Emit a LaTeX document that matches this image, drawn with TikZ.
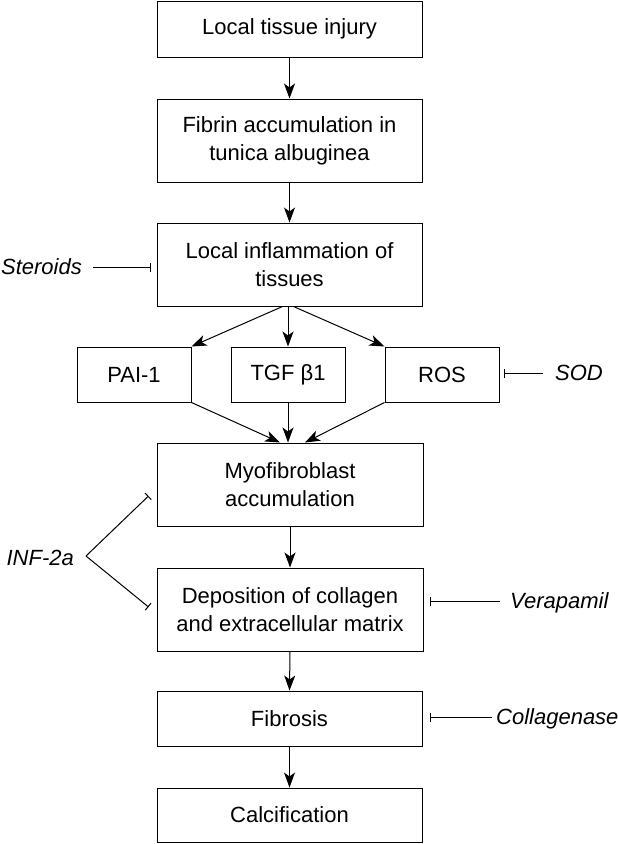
\documentclass[tikz,border=0pt]{standalone}
\usepackage{fontspec}
\setmainfont{Liberation Sans}
\usetikzlibrary{arrows.meta,calc}
\newcommand{\fsz}{\fontsize{22}{28}\selectfont}
\begin{document}
\begin{tikzpicture}[x=1pt,y=-1pt,
  box/.style={draw, line width=1pt, align=center, inner sep=0pt, font=\fsz},
  arr/.style={-{Stealth[length=15pt,width=11pt,inset=4pt]}, line width=1pt},
  inh/.style={-{Bar[width=9pt]}, line width=1pt},
  lab/.style={font=\fsz\itshape, inner sep=0pt, text height=15.8pt, text depth=0pt}]
\useasboundingbox (0,0) rectangle (618,844);
\node[box, minimum width=265pt, minimum height=56pt] (b1) at (289.5,29) {Local tissue injury};
\node[box, minimum width=265pt, minimum height=83pt] (b2) at (289.5,140.5) {Fibrin accumulation in\\tunica albuginea};
\node[box, minimum width=265pt, minimum height=83pt] (b3) at (289.5,264.5) {Local inflammation of\\tissues};
\node[box, minimum width=114pt, minimum height=55pt] (pai) at (134,374.5) {PAI-1};
\node[box, minimum width=114pt, minimum height=55pt] (tgf) at (288,374.5) {TGF β1};
\node[box, minimum width=114pt, minimum height=55pt] (ros) at (442,374.5) {ROS};
\node[box, minimum width=266pt, minimum height=83pt] (myo) at (290,484.5) {Myofibroblast\\accumulation};
\node[box, minimum width=266pt, minimum height=83pt] (dep) at (290,609.5) {Deposition of collagen\\and extracellular matrix};
\node[box, minimum width=265pt, minimum height=55pt] (fib) at (289.5,718.5) {Fibrosis};
\node[box, minimum width=265pt, minimum height=54pt] (calc) at (289.5,815) {Calcification};

\draw[arr] (b1.south) -- (b2.north);
\draw[arr] (b2.south) -- (b3.north);
\draw[arr] ([xshift=-7pt]b3.south) -- (pai.north east);
\draw[arr] (b3.south -| tgf.north) -- (tgf.north);
\draw[arr] ([xshift=4pt]b3.south) -- (ros.north west);
\draw[arr] (pai.south east) -- ([xshift=-10pt]myo.north);
\draw[arr] (tgf.south) -- (tgf.south |- myo.north);
\draw[arr] (ros.south west) -- ([xshift=15pt]myo.north);
\draw[arr] (myo.south) -- (dep.north);
\draw[arr] (dep.south) -- (fib.north);
\draw[arr] (fib.south) -- (calc.north);

\node[lab, anchor=east] (ster) at (82,267) {Steroids};
\draw[inh] ([xshift=11pt]ster.east) -- ([xshift=-6pt]ster.east -| b3.west);
\node[lab, anchor=west] (sod) at (555,373) {SOD};
\draw[inh] ([xshift=-12pt]sod.west) -- ([xshift=4pt]sod.west -| ros.east);
\node[lab, anchor=east] (inf) at (74,558) {INF-2a};
\coordinate (v) at (86,556);
\draw[inh] (v) -- ($(myo.west)+(-8,11.5)$);
\draw[inh] (v) -- ($(dep.west)+(-8,-2.5)$);
\node[lab, anchor=west] (vera) at (510,601) {Verapamil};
\draw[inh] ([xshift=-10pt]vera.west) -- ([xshift=6pt]vera.west -| dep.east);
\node[lab, anchor=west] (coll) at (496,717) {Collagenase};
\draw[inh] ([xshift=-4pt]coll.west) -- ([xshift=7pt]coll.west -| fib.east);
\end{tikzpicture}
\end{document}
